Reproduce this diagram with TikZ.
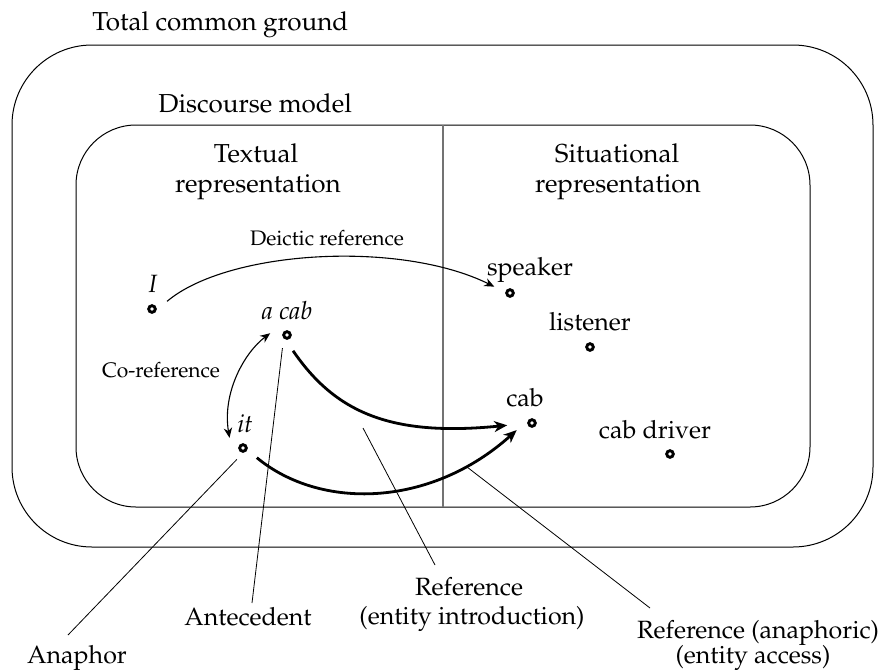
\documentclass[tikz,border=0pt]{standalone}
\usepackage[T1]{fontenc}
\usepackage{mathpazo}
\usetikzlibrary{arrows.meta}
\begin{document}
\begin{tikzpicture}[x=0.5pt,y=-0.5pt,
  lbl/.style={inner sep=0pt,anchor=base,font=\fontsize{12.5}{15}\selectfont},
  title/.style={inner sep=0pt,anchor=base west,font=\fontsize{13}{15}\selectfont},
  small/.style={inner sep=0pt,anchor=base,font=\fontsize{10.5}{12}\selectfont},
  dot/.style={circle,draw,line width=1.45pt,fill=white,minimum size=3.3pt,inner sep=0pt,outer sep=6.8pt},
  box/.style={draw,line width=0.5pt},
  divider/.style={draw=black!55,line width=0.7pt},
  pointer/.style={line width=0.4pt},
  thinarrow/.style={line width=0.55pt,-{Stealth[length=5pt,width=4.2pt,inset=1.6pt]}},
  thinboth/.style={line width=0.55pt,{Stealth[length=5pt,width=4.2pt,inset=1.6pt]}-{Stealth[length=5pt,width=4.2pt,inset=1.6pt]}},
  thickarrow/.style={line width=1.4pt,-{Stealth[length=6.5pt,width=5.5pt,inset=2pt]}}
]
\useasboundingbox (0,0) rectangle (890,670);

% boxes
\draw[box,rounded corners=40pt] (12,45) rectangle (873,547);
\draw[box,rounded corners=30pt] (76,125) rectangle (810,507);
\draw[divider] (443,125) -- (443,507);

% titles
\node[title] (tcg) at (92,30) {Total common ground};
\node[title] (dm) at (158,112) {Discourse model};
\node[lbl,font=\fontsize{13}{15}\selectfont] (tx1) at (256,162) {Textual};
\node[lbl,font=\fontsize{13}{15}\selectfont] (tx2) at (258,192) {representation};
\node[lbl,font=\fontsize{13}{15}\selectfont] (si1) at (617,162) {Situational};
\node[lbl,font=\fontsize{13}{15}\selectfont] (si2) at (618,192) {representation};

% dots
\node[dot] (dI) at (152,309) {};
\node[dot] (dacab) at (287,335) {};
\node[dot] (dit) at (243,448) {};
\node[dot] (dspk) at (510,293) {};
\node[dot] (dlis) at (590,347) {};
\node[dot] (dcab) at (532,423) {};
\node[dot] (ddrv) at (670,454) {};

% dot labels
\node[lbl] (lI) at (153,292) {\textit{I}};
\node[lbl] (lacab) at (287,319) {\textit{a cab}};
\node[lbl] (lit) at (245,432) {\textit{it}};
\node[lbl] (lspk) at (530,275) {speaker};
\node[lbl] (llis) at (590,330) {listener};
\node[lbl] (lcab) at (525,406) {cab};
\node[lbl] (ldrv) at (655,438) {cab driver};

% small labels
\node[small] (ldeic) at (327,245) {Deictic reference};
\node[small] (lcoref) at (161,377) {Co-reference};

% bottom labels
\node[lbl] (lana) at (77,663) {Anaphor};
\node[lbl] (lante) at (248,625) {Antecedent};
\node[lbl] (lref1) at (469,595) {Reference};
\node[lbl] (lref2) at (472,624) {(entity introduction)};
\node[lbl] (lrefa1) at (758,638) {Reference (anaphoric)};
\node[lbl] (lrefa2) at (753,663) {(entity access)};

% free ends of pointer lines
\coordinate (eana) at (68,635);
\coordinate (eante) at (252,603);
\coordinate (sref) at (363,428);
\coordinate (eref) at (435,565);
\coordinate (srefa) at (467,467);
\coordinate (erefa) at (650,608);

% arrows
\draw[thinarrow] (dI.27) .. controls (228,250) and (400,240) .. (dspk.158);
\draw[thinboth] (dacab.174) .. controls (245,352) and (222,392) .. (dit.143);
\draw[thickarrow,shorten >=4pt] (dacab.291) .. controls (335,412) and (390,437) .. (dcab.185);
\draw[thickarrow] (dit.-35) .. controls (320,510) and (430,508) .. (dcab.205);

% pointer lines
\draw[pointer,shorten <=-2pt] (dit.238) -- (eana);
\draw[pointer,shorten <=-1.5pt] (dacab.253) -- (eante);
\draw[pointer] (sref) -- (eref);
\draw[pointer] (srefa) -- (erefa);
\end{tikzpicture}
\end{document}
